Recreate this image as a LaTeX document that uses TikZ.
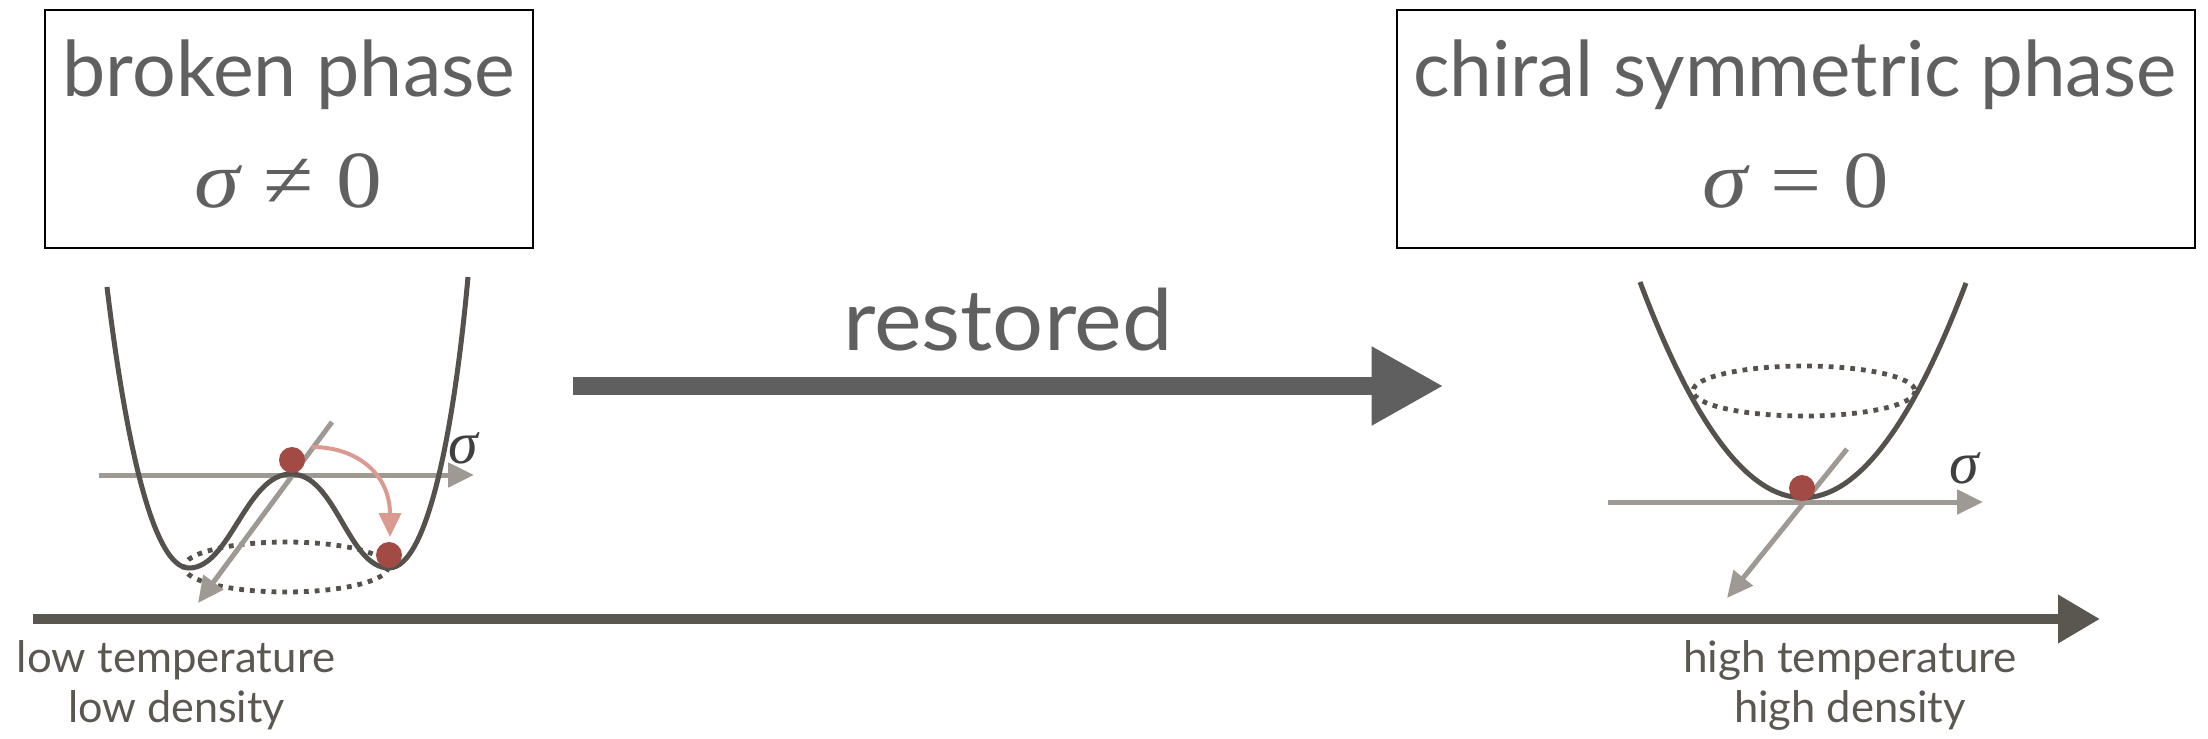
\documentclass[tikz,border=0pt]{standalone}
\usepackage{fontspec}
\usepackage{graphicx}
\setmainfont{Lato}
\newfontfamily\mathserif{Liberation Serif}
\usetikzlibrary{arrows.meta}

\definecolor{boxtext}{HTML}{606060}
\definecolor{labeltext}{HTML}{5B5852}
\definecolor{bigarrow}{HTML}{5F5F5F}
\definecolor{timeaxis}{HTML}{5A5751}
\definecolor{potential}{HTML}{55524D}
\definecolor{axisgray}{HTML}{9E9A93}
\definecolor{ballred}{HTML}{A24B45}
\definecolor{rollpink}{HTML}{D99A8F}
\definecolor{sigmatext}{HTML}{404040}

% width-fitted text: \fittext{target width}{font size}{text}
\newcommand{\fittext}[3]{\resizebox{#1}{\height}{\fontsize{#2}{#2}\selectfont #3}}

\begin{document}
\begin{tikzpicture}[x=0.5pt,y=-0.5pt,
  phasebox/.style={draw=black, line width=1pt, inner sep=0pt, minimum height=119pt},
  txt/.style={anchor=base, inner sep=0pt, outer sep=0pt},
  pot/.style={draw=potential, line width=2.5pt},
  fieldaxis/.style={draw=axisgray, line width=2.5pt, -{Triangle[length=13pt,width=12pt]}},
  orbit/.style={draw=potential, line width=2.4pt, dash pattern=on 2.4pt off 3pt},
  vac/.style={circle, fill=ballred, minimum size=13pt, inner sep=0pt},
  roll/.style={draw=rollpink, line width=2pt, -{Triangle[length=12pt,width=11pt]}},
  sigmalabel/.style={inner sep=0pt, text=sigmatext, font=\mathserif\itshape\fontsize{30pt}{30pt}\selectfont},
  labeltxt/.style={txt, text=labeltext}
]
\useasboundingbox (0,0) rectangle (2208,739);

% ---------- phase boxes ----------
\node[phasebox, minimum width=244pt] (brokenbox) at (289,129) {};
\node[txt, text=boxtext] (brokentitle) at (289,97)
  {\fittext{226.5pt}{38.5pt}{broken phase}};
\node[txt, text=boxtext] (brokeneq) at (288.5,207)
  {\fittext{93.5pt}{40.5pt}{\mathserif{\itshape σ} ≠ 0}};

\node[phasebox, minimum width=399pt] (symbox) at (1796,129) {};
\node[txt, text=boxtext] (symtitle) at (1795,97)
  {\fittext{382pt}{38.5pt}{chiral symmetric phase}};
\node[txt, text=boxtext] (symeq) at (1796,207)
  {\fittext{93.5pt}{40.5pt}{\mathserif{\itshape σ} = 0}};

% ---------- restoration arrow ----------
\node[txt, text=boxtext] (restored) at (1008,350)
  {\fittext{165pt}{42.4pt}{restored}};
\coordinate (restA) at (573,386);
\coordinate (restB) at (1443.5,386);
\draw[draw=bigarrow, line width=9pt, -{Triangle[length=36pt,width=37pt]}] (restA) -- (restB);

% ---------- temperature / density axis ----------
\coordinate (tlow) at (33,619);
\coordinate (thigh) at (2100,619);
\draw[draw=timeaxis, line width=5pt, -{Triangle[length=21pt,width=23pt]}] (tlow) -- (thigh);
\node[labeltxt] (lowT) at (176,672) {\fittext{159pt}{21.7pt}{low temperature}};
\node[labeltxt] (lowD) at (176.5,722) {\fittext{108.5pt}{21.7pt}{low density}};
\node[labeltxt] (highT) at (1850,672) {\fittext{167pt}{21.7pt}{high temperature}};
\node[labeltxt] (highD) at (1850,722) {\fittext{116pt}{21.7pt}{high density}};

% ---------- broken phase: Mexican hat ----------
\coordinate (lhA) at (99,475);
\coordinate (lhB) at (474,475);
\coordinate (ldA) at (332,422);
\coordinate (ldB) at (198,603);
\draw[orbit] (286,567) ellipse [x radius=102, y radius=25];
\draw[fieldaxis] (lhA) -- (lhB);
\draw[fieldaxis] (ldA) -- (ldB);
\draw[pot] (107,287) .. controls (123,420) and (150,568) .. (189,568)
  .. controls (230,568) and (246,474) .. (291,474)
  .. controls (336,474) and (348,568) .. (389,568)
  .. controls (429,568) and (455,420) .. (468,277);
\node[vac] (topball) at (292,460) {};
\node[vac] (wellball) at (389,555) {};
\coordinate (rollA) at (312,447);
\coordinate (rollB) at (390,537);
\draw[roll] (rollA) .. controls (358,447) and (390,475) .. (rollB);
\node[sigmalabel] (sigmaL) at (463,448) {σ};

% ---------- symmetric phase: single well ----------
\coordinate (rhA) at (1608,502);
\coordinate (rhB) at (1983,502);
\coordinate (rdA) at (1847,449);
\coordinate (rdB) at (1727,598);
\draw[orbit] (1804,391) ellipse [x radius=111, y radius=25];
\draw[fieldaxis] (rhA) -- (rhB);
\draw[fieldaxis] (rdA) -- (rdB);
\draw[pot] (1640,282) .. controls (1748,569) and (1857,570) .. (1966,283);
\node[vac] (symball) at (1802,488) {};
\node[sigmalabel] (sigmaR) at (1964,468) {σ};
\end{tikzpicture}
\end{document}
